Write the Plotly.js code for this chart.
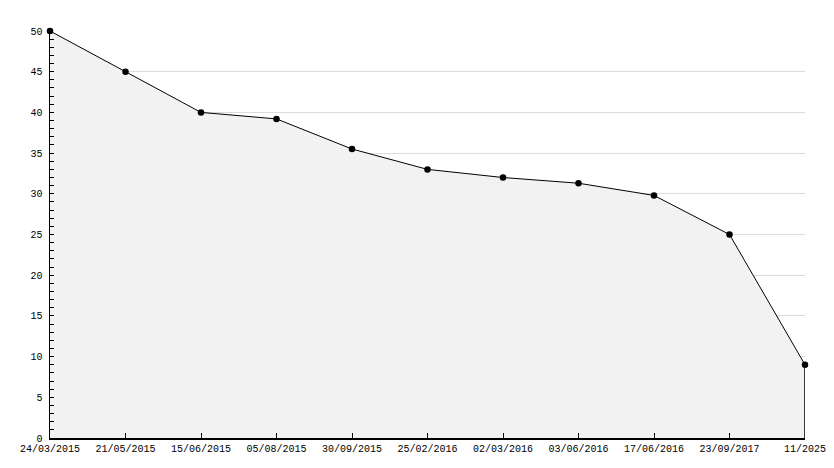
<!DOCTYPE html>
<html>
<head>
<meta charset="utf-8">
<script src="https://cdn.plot.ly/plotly-3.0.1.min.js"></script>
<style>html,body{margin:0;padding:0;background:#fff;}#chart{width:834px;height:468px;}</style>
</head>
<body>
<div id="chart"></div>
<script>
const dates = ["24/03/2015","21/05/2015","15/06/2015","05/08/2015","30/09/2015","25/02/2016","02/03/2016","03/06/2016","17/06/2016","23/09/2017","11/2025"];
const values = [50, 45, 40, 39.2, 35.5, 33, 32, 31.3, 29.8, 25, 9];

const lastIdx = dates.length - 1;
const font = {family: "Liberation Mono, monospace", size: 10, color: "#000"};

const traces = [
  {
    x: dates, y: values, type: "scatter", mode: "lines+markers",
    fill: "tozeroy", fillcolor: "#f2f2f2",
    line: {color: "#000", width: 1},
    marker: {symbol: "circle", size: 6.5, color: "#000"},
    cliponaxis: false,
    hoverinfo: "x+y"
  },
  {
    x: [dates[lastIdx], dates[lastIdx]], y: [0, values[lastIdx]],
    type: "scatter", mode: "lines",
    line: {color: "#000", width: 1.5}, hoverinfo: "skip"
  }
];

const layout = {
  width: 834, height: 468,
  margin: {l: 50, r: 29, t: 31, b: 30},
  paper_bgcolor: "#fff", plot_bgcolor: "#fff",
  showlegend: false,
  font: font,
  xaxis: {
    type: "category", categoryorder: "array", categoryarray: dates,
    range: [0, lastIdx],
    showgrid: false, zeroline: false,
    showline: true, linecolor: "#000", linewidth: 1.5,
    ticks: "inside", ticklen: 5, tickcolor: "#000", tickwidth: 1,
    tickfont: font, ticklabelstandoff: 0
  },
  yaxis: {
    range: [0, 50], dtick: 5, tick0: 0,
    showgrid: true, gridcolor: "#dcdcdc", gridwidth: 1,
    zeroline: false,
    showline: true, linecolor: "#000", linewidth: 1.5,
    ticks: "inside", ticklen: 4, tickcolor: "#000", tickwidth: 1,
    minor: {ticks: "inside", dtick: 1, ticklen: 4, tickcolor: "#000", tickwidth: 1, showgrid: false},
    tickfont: font, ticklabelstandoff: 4
  }
};

Plotly.newPlot("chart", traces, layout, {displayModeBar: false, staticPlot: true});
</script>
</body>
</html>
